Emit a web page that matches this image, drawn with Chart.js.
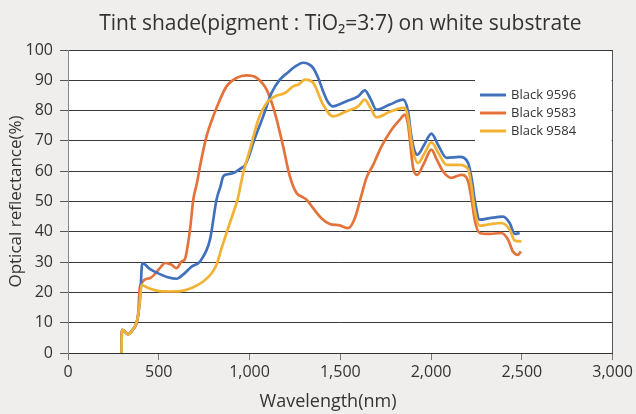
<!DOCTYPE html>
<html><head><meta charset="utf-8">
<script src="https://cdn.jsdelivr.net/npm/chart.js@4.4.1/dist/chart.umd.min.js"></script>
<style>html,body{margin:0;padding:0;background:#efeeec;}canvas{display:block;}</style>
</head><body>
<canvas id="c" width="636" height="414"></canvas>
<script>
const titleText = 'Tint shade(pigment : TiO\u2082=3:7) on white substrate';
const xTitle = 'Wavelength(nm)';
const yTitle = 'Optical reflectance(%)';
const seriesNames = ['Black 9596', 'Black 9583', 'Black 9584'];
const seriesColors = ['#4171bd', '#e4733b', '#f2b234'];
const xTicks = [0, 500, 1000, 1500, 2000, 2500, 3000];
const yTicks = [0, 10, 20, 30, 40, 50, 60, 70, 80, 90, 100];

// Black 9596
const wl9596 = [295,296,300,330,355,385,398,409,450,500,550,598,640,681,727,782,818,840,855,880,910,956,975,1000,1020,1075,1121,1167,1210,1250,1295,1320,1350,1380,1405,1430,1460,1500,1534,1598,1635,1665,1699,1773,1846,1873,1890,1910,1925,1960,2002,2040,2085,2158,2204,2225,2240,2268,2323,2396,2433,2461,2488];
const r9596 = [0,6.5,7.6,6.2,7.6,12,19,29.7,27.8,26.2,25.0,24.5,26.2,28.5,30.2,37.4,50.6,55,58.3,59,59.4,61.1,62,65.5,69.3,78.1,85.8,90.2,92.5,94.5,95.8,95.5,94.1,90.5,86.4,83,81.4,82.2,83.1,84.7,86.7,84,80.3,82,83.6,79.8,72,66.5,65.5,68.5,72.4,68.5,64.4,64.7,62.7,57,50.6,44,44.5,45,42.9,39.3,39.6];

// Black 9583
const wl9583 = [295,296,300,330,355,385,396,451,506,534,571,598,626,644,672,690,710,727,763,800,837,873,929,984,1039,1094,1140,1185,1222,1259,1290,1314,1350,1396,1442,1497,1543,1580,1617,1644,1681,1727,1782,1828,1855,1873,1901,1923,1960,2002,2030,2066,2112,2167,2204,2225,2240,2268,2323,2387,2424,2451,2479,2495];
const r9583 = [0,6.5,7.6,6.2,7.6,12,21.9,24.7,28,29.7,29.1,28,30.2,31,40.7,50.6,56,61.6,71.5,78.1,83.6,88,90.8,91.6,90.8,86.9,79.2,68.2,58.3,52.8,51.5,50.6,47.8,44.5,42.6,42.1,41.2,44.5,52.2,57.8,62.1,68.2,73.7,77,78.7,75.4,61.1,58.8,62.5,67.1,64,59.9,57.8,58.8,56.6,50,44,39.6,39.3,39.6,37.4,33.5,32.4,33.5];

// Black 9584
const wl9584 = [295,296,300,330,355,385,398,405,433,488,561,635,690,745,791,818,846,873,910,934,965,1002,1048,1094,1140,1195,1240,1270,1305,1350,1405,1460,1534,1598,1635,1665,1699,1773,1846,1865,1901,1928,1960,2002,2040,2085,2158,2204,2225,2240,2268,2323,2387,2433,2461,2498];
const r9584 = [0,6.5,7.6,6.2,7.6,12,18.6,22.5,21.7,20.6,20.3,20.6,21.7,23.6,26.3,29.1,34.6,39.6,46.2,50.6,59.4,67.1,77,82.5,84.7,85.8,88,88.6,90.2,89.2,82,78.1,79.8,81.4,83.6,81,77.8,79.6,80.9,79.8,66.5,62.7,65.5,69.5,66,62.1,62.1,60.7,54,47.3,42,42.5,42.9,40.7,37.1,36.8];

const FONT = '"Open Sans", "Noto Sans", sans-serif';
const TEXT = '#333333';

const toPoints = (xs, ys) => xs.map((x, i) => ({x: x, y: ys[i]}));
const seriesX = [wl9596, wl9583, wl9584];
const seriesY = [r9596, r9583, r9584];
const drawOrder = [1, 2, 0];

const datasets = seriesNames.map((name, i) => ({
  label: name,
  data: toPoints(seriesX[i], seriesY[i]),
  borderColor: seriesColors[i],
  backgroundColor: seriesColors[i],
  borderWidth: 2.7,
  pointRadius: 0,
  fill: false,
  cubicInterpolationMode: 'monotone',
  order: drawOrder[i]
}));

const deco = {
  id: 'deco',
  beforeDraw(chart) {
    const {ctx, chartArea: a} = chart;
    ctx.save();
    ctx.fillStyle = '#efeeec';
    ctx.fillRect(0, 0, chart.width, chart.height);
    ctx.fillStyle = '#ffffff';
    ctx.fillRect(a.left, a.top, a.right - a.left, a.bottom - a.top);
    ctx.restore();
  },
  beforeDatasetsDraw(chart) {
    const {ctx, chartArea: a} = chart;
    ctx.save();
    ctx.fillStyle = '#ffffff';
    ctx.fillRect(475, a.top + 2, a.right - 1 - 475, 114);
    ctx.restore();
  },
  afterDatasetsDraw(chart) {
    const {ctx, chartArea: a} = chart;
    ctx.save();
    // legend
    const rows = [95, 113, 131];
    seriesNames.forEach((name, i) => {
      ctx.strokeStyle = seriesColors[i];
      ctx.lineWidth = 3;
      ctx.beginPath();
      ctx.moveTo(480, rows[i]);
      ctx.lineTo(506, rows[i]);
      ctx.stroke();
      ctx.fillStyle = TEXT;
      ctx.font = '13px ' + FONT;
      ctx.textAlign = 'left';
      ctx.textBaseline = 'middle';
      ctx.fillText(name, 511, rows[i] + 0.5);
    });
    // main title
    ctx.fillStyle = TEXT;
    ctx.font = '21px ' + FONT;
    ctx.textAlign = 'center';
    ctx.textBaseline = 'middle';
    ctx.fillText(titleText, (a.left + a.right) / 2, 24);
    // x axis title
    ctx.font = '18px ' + FONT;
    ctx.fillText(xTitle, 328, 402);
    ctx.restore();
  }
};

new Chart(document.getElementById('c'), {
  type: 'line',
  data: {datasets: datasets},
  options: {
    responsive: false,
    animation: false,
    layout: {padding: {top: 50, right: 23, left: 0, bottom: 0}},
    plugins: {legend: {display: false}, title: {display: false}, tooltip: {enabled: false}},
    scales: {
      x: {
        type: 'linear', min: 0, max: 3000,
        afterBuildTicks: s => { s.ticks = xTicks.map(v => ({value: v})); },
        afterFit: s => { s.height = 61; },
        ticks: {color: TEXT, font: {size: 16, family: FONT}, padding: 3,
          callback: v => Number(v).toLocaleString('en-US')},
        grid: {drawOnChartArea: true, drawTicks: true, tickLength: 7,
          color: c => (c.tick && c.tick.value === 3000) ? '#555555' : 'rgba(0,0,0,0)',
          tickColor: '#777777'},
        border: {display: true, color: '#333333', width: 1}
      },
      y: {
        min: 0, max: 100,
        afterBuildTicks: s => { s.ticks = yTicks.map(v => ({value: v})); },
        afterFit: s => { s.width = 68; },
        ticks: {color: TEXT, font: {size: 16, family: FONT}, padding: 7},
        grid: {color: '#3a3a3a', drawTicks: true, tickLength: 8, tickColor: '#555555'},
        border: {display: true, color: '#888888', width: 1},
        title: {display: true, text: yTitle, color: TEXT, font: {size: 17, family: FONT}, padding: {top: 6, bottom: 0}}
      }
    }
  },
  plugins: [deco]
});
</script>
</body></html>
